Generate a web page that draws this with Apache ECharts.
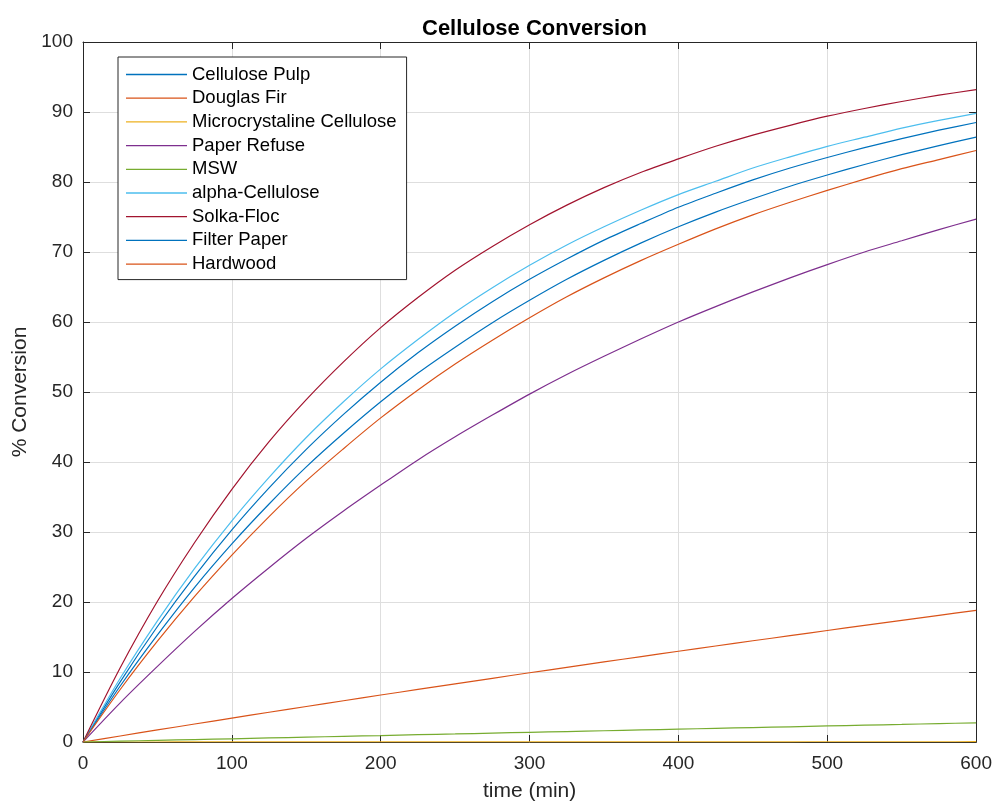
<!DOCTYPE html>
<html>
<head>
<meta charset="utf-8">
<script src="https://cdn.jsdelivr.net/npm/echarts@6/dist/echarts.min.js"></script>
<style>
  html, body { margin: 0; padding: 0; background: #fff; overflow: hidden; }
  #chart { width: 995px; height: 807px; }
</style>
</head>
<body>
<div id="chart"></div>
<script>
// Sample times (min)
const times = [0, 25, 50, 75, 100, 125, 150, 175, 200, 225, 250, 275, 300,
               325, 350, 375, 400, 425, 450, 475, 500, 525, 550, 575, 600];

// % conversion of each substrate at the sample times
const cellulosePulp = [0, 8.6, 16.5, 23.7, 30.3, 36.3, 41.8, 46.8, 51.4, 55.6, 59.4, 62.9, 66.1,
                       69.0, 71.7, 74.1, 76.4, 78.4, 80.3, 82.0, 83.5, 84.9, 86.2, 87.4, 88.5];
const douglasFir = [0, 0.86, 1.72, 2.57, 3.41, 4.25, 5.07, 5.89, 6.71, 7.51, 8.31, 9.10, 9.89,
                    10.67, 11.44, 12.20, 12.96, 13.71, 14.46, 15.19, 15.93, 16.66, 17.38, 18.09, 18.80];
const microcrystaline = [0, 0.002, 0.003, 0.005, 0.007, 0.008, 0.01, 0.012, 0.013, 0.015, 0.017, 0.018, 0.02,
                         0.022, 0.023, 0.025, 0.027, 0.028, 0.03, 0.032, 0.033, 0.035, 0.037, 0.038, 0.04];
const paperRefuse = [0, 5.6, 10.8, 15.8, 20.5, 24.9, 29.1, 33.0, 36.7, 40.3, 43.6, 46.7, 49.7,
                     52.5, 55.1, 57.6, 60.0, 62.2, 64.3, 66.3, 68.2, 70.0, 71.6, 73.2, 74.7];
const msw = [0, 0.12, 0.23, 0.35, 0.46, 0.58, 0.69, 0.81, 0.92, 1.04, 1.15, 1.27, 1.38,
             1.49, 1.61, 1.72, 1.84, 1.95, 2.06, 2.17, 2.29, 2.40, 2.51, 2.63, 2.74];
const alphaCellulose = [0, 9.1, 17.3, 24.8, 31.6, 37.8, 43.5, 48.6, 53.3, 57.5, 61.4, 64.9, 68.1,
                        71.0, 73.6, 76.0, 78.2, 80.1, 82.0, 83.6, 85.1, 86.4, 87.7, 88.8, 89.8];
const solkaFloc = [0, 10.6, 20.1, 28.5, 36.1, 42.9, 48.9, 54.3, 59.2, 63.5, 67.4, 70.8, 73.9,
                   76.7, 79.2, 81.4, 83.3, 85.1, 86.7, 88.1, 89.4, 90.5, 91.5, 92.4, 93.2];
const filterPaper = [0, 8.0, 15.3, 22.1, 28.3, 34.0, 39.3, 44.1, 48.6, 52.7, 56.4, 59.9, 63.1,
                     66.1, 68.8, 71.3, 73.6, 75.7, 77.6, 79.4, 81.0, 82.5, 83.9, 85.2, 86.4];
const hardwood = [0, 7.5, 14.4, 20.8, 26.7, 32.2, 37.3, 41.9, 46.3, 50.3, 54.0, 57.4, 60.6,
                  63.6, 66.3, 68.8, 71.1, 73.3, 75.3, 77.1, 78.8, 80.4, 81.9, 83.2, 84.5];

const seriesNames = ['Cellulose Pulp', 'Douglas Fir', 'Microcrystaline Cellulose', 'Paper Refuse',
                     'MSW', 'alpha-Cellulose', 'Solka-Floc', 'Filter Paper', 'Hardwood'];
const seriesValues = [cellulosePulp, douglasFir, microcrystaline, paperRefuse, msw,
                      alphaCellulose, solkaFloc, filterPaper, hardwood];
const seriesColors = ['#0072BD', '#D95319', '#EDB120', '#7E2F8E', '#77AC30',
                      '#4DBEEE', '#A2142F', '#0072BD', '#D95319'];

const xTicks = { min: 0, max: 600, interval: 100 };
const yTicks = { min: 0, max: 100, interval: 10 };

const FONT = '"Liberation Sans", Arial, Helvetica, sans-serif';
const AX = '#262626';

const chart = echarts.init(document.getElementById('chart'), null, { renderer: 'canvas' });

const baseAxis = {
  type: 'value',
  axisLine: { show: true, onZero: false, lineStyle: { color: AX, width: 1 } },
  axisTick: { show: true, inside: true, length: 7, lineStyle: { color: AX, width: 1 } },
  splitLine: { show: false }
};

chart.setOption({
  animation: false,
  backgroundColor: '#fff',
  title: {
    text: 'Cellulose Conversion',
    left: 417, top: 13,
    textStyle: { fontFamily: FONT, fontSize: 22, fontWeight: 'bold', color: '#000' }
  },
  grid: { left: 83, top: 42, width: 894, height: 704, containLabel: false },
  legend: {
    orient: 'vertical',
    left: 118, top: 57,
    data: seriesNames,
    icon: 'rect',
    itemWidth: 61, itemHeight: 1.3, itemGap: 4.7,
    padding: [8, 10, 6, 8],
    backgroundColor: '#fff',
    borderColor: AX, borderWidth: 1,
    textStyle: { fontFamily: FONT, fontSize: 18.5, color: '#000', lineHeight: 18 }
  },
  xAxis: [
    Object.assign({}, baseAxis, {
      min: xTicks.min, max: xTicks.max, interval: xTicks.interval,
      position: 'bottom',
      name: 'time (min)', nameLocation: 'middle', nameGap: 39,
      nameTextStyle: { fontFamily: FONT, fontSize: 21, color: AX },
      axisLabel: { margin: 12, fontFamily: FONT, fontSize: 19, color: AX },
      splitLine: { show: true, lineStyle: { color: '#dedede', width: 1 } }
    }),
    Object.assign({}, baseAxis, {
      min: xTicks.min, max: xTicks.max, interval: xTicks.interval,
      position: 'top', axisLabel: { show: false }
    })
  ],
  yAxis: [
    Object.assign({}, baseAxis, {
      min: yTicks.min, max: yTicks.max, interval: yTicks.interval,
      position: 'left',
      name: '% Conversion', nameLocation: 'middle', nameGap: 52,
      nameTextStyle: { fontFamily: FONT, fontSize: 21, color: AX },
      axisLabel: { margin: 10, fontFamily: FONT, fontSize: 19, color: AX },
      splitLine: { show: true, lineStyle: { color: '#dedede', width: 1 } }
    }),
    Object.assign({}, baseAxis, {
      min: yTicks.min, max: yTicks.max, interval: yTicks.interval,
      position: 'right', axisLabel: { show: false }
    })
  ],
  series: seriesNames.map((name, i) => ({
    name,
    type: 'line',
    xAxisIndex: 0, yAxisIndex: 0,
    data: times.map((t, j) => [t, seriesValues[i][j]]),
    symbol: 'none',
    smooth: 0.3,
    color: seriesColors[i],
    lineStyle: { color: seriesColors[i], width: 1.2 }
  }))
});
</script>
</body>
</html>
